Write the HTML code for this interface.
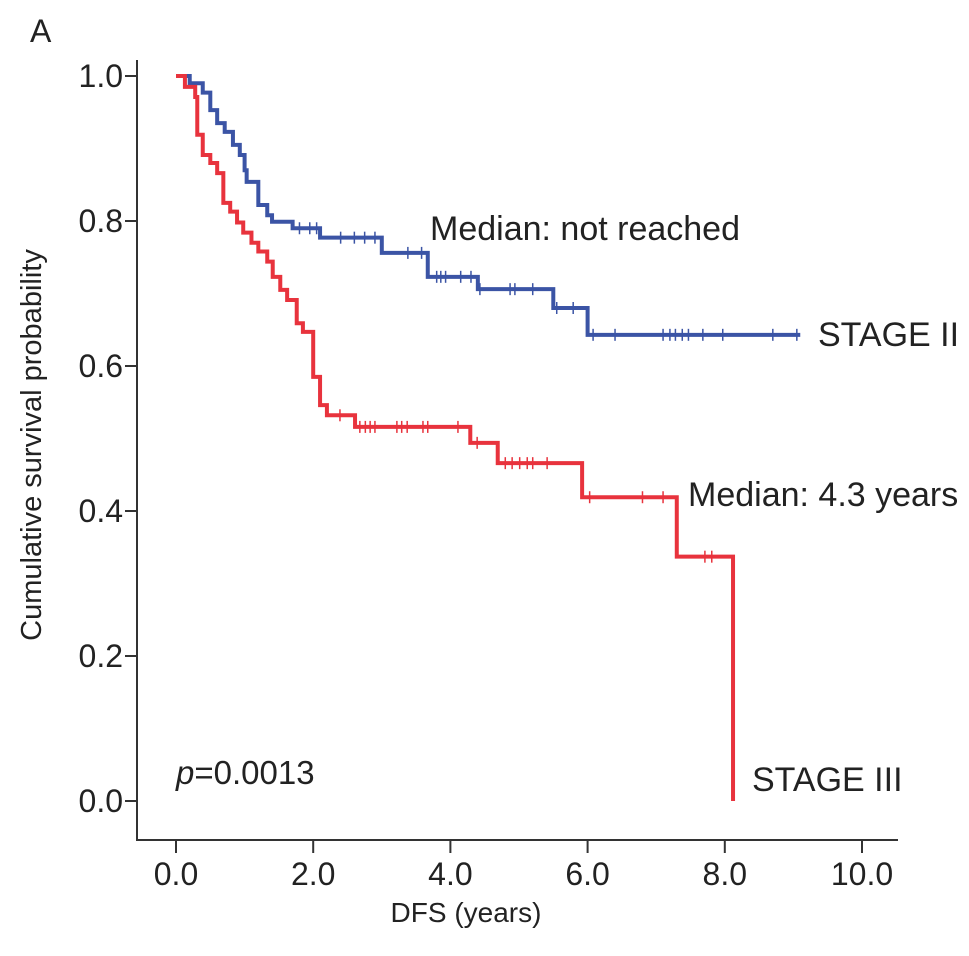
<!DOCTYPE html>
<html><head><meta charset="utf-8"><style>
body{margin:0;background:#fff}
svg text{font-family:"Liberation Sans",Arial,sans-serif;fill:#222}
</style></head><body>
<svg id="chart" width="969" height="951" xmlns="http://www.w3.org/2000/svg">
<text x="30" y="42" font-size="32">A</text>
<g id="axes"></g>
<g id="series"></g>
<text x="430" y="240" font-size="34">Median: not reached</text>
<text x="818" y="346" font-size="34">STAGE II</text>
<text x="688" y="506" font-size="34">Median: 4.3 years</text>
<text x="752" y="791" font-size="34">STAGE III</text>
<text x="176" y="784" font-size="33"><tspan font-style="italic">p</tspan>=0.0013</text>
<text x="466" y="922" font-size="28" text-anchor="middle">DFS (years)</text>
<text transform="translate(41,445) rotate(-90)" font-size="29" text-anchor="middle">Cumulative survival probability</text>
</svg>
<script>
const xTicks=[0,2,4,6,8,10];
const xTickLabels=["0.0","2.0","4.0","6.0","8.0","10.0"];
const yTicks=[0,0.2,0.4,0.6,0.8,1.0];
const yTickLabels=["0.0","0.2","0.4","0.6","0.8","1.0"];
const stage2Times=[0,0.2,0.39,0.5,0.6,0.71,0.83,0.93,1.0,1.03,1.2,1.33,1.4,1.7,2.1,3.0,3.67,4.4,5.5,6.0,9.1];
const stage2Surv=[1.0,0.99,0.977,0.953,0.935,0.923,0.905,0.891,0.87,0.854,0.822,0.808,0.799,0.79,0.777,0.756,0.723,0.706,0.68,0.643,0.643];
const stage2Censor=[1.8,1.95,2.05,2.4,2.6,2.75,2.9,3.38,3.58,3.8,3.86,3.93,4.15,4.3,4.43,4.87,4.94,5.2,5.55,5.79,6.08,6.4,7.1,7.2,7.28,7.38,7.47,7.68,7.97,8.7,9.05];
const stage3Times=[0,0.13,0.28,0.31,0.39,0.5,0.6,0.69,0.79,0.89,0.98,1.1,1.2,1.33,1.41,1.52,1.62,1.76,1.85,2.0,2.1,2.2,2.61,4.29,4.69,5.92,7.3,8.12];
const stage3Surv=[1.0,0.985,0.971,0.919,0.891,0.88,0.866,0.825,0.813,0.798,0.784,0.77,0.758,0.744,0.723,0.705,0.691,0.659,0.647,0.585,0.546,0.532,0.516,0.494,0.466,0.419,0.337,0.0];
const stage3Censor=[2.39,2.68,2.76,2.83,2.9,3.22,3.29,3.37,3.6,3.67,4.11,4.39,4.8,4.9,5.01,5.12,5.2,5.41,6.03,6.8,7.1,7.71,7.81];
const NS="http://www.w3.org/2000/svg";
const X=v=>176+v*68.6, Y=v=>801-v*725;
function mk(tag,attrs,parent){const e=document.createElementNS(NS,tag);for(const k in attrs)e.setAttribute(k,attrs[k]);parent.appendChild(e);return e;}
const axes=document.getElementById('axes'), series=document.getElementById('series');
let a=mk('line',{x1:137,y1:60,x2:137,y2:841,stroke:'#333','stroke-width':2},axes);


a=mk('line',{x1:136,y1:840,x2:898,y2:840,stroke:'#333','stroke-width':2},axes);


xTicks.forEach((t,i)=>{
 const l=mk('line',{x1:X(t),y1:840,x2:X(t),y2:853,stroke:'#333','stroke-width':2},axes);
 
 
 const tx=mk('text',{x:X(t),y:885,'font-size':32,'text-anchor':'middle'},axes);tx.textContent=xTickLabels[i];
 
 
});
yTicks.forEach((t,i)=>{
 const l=mk('line',{x1:125,y1:Y(t),x2:137,y2:Y(t),stroke:'#333','stroke-width':2},axes);
 
 
 const tx=mk('text',{x:123,y:Y(t)+11,'font-size':32,'text-anchor':'end'},axes);tx.textContent=yTickLabels[i];
 
 
});
function stepPath(times,surv){
 let d=`M${X(times[0])},${Y(surv[0])}`;
 for(let i=1;i<times.length;i++){d+=`H${X(times[i])}V${Y(surv[i])}`;}
 return d;}
function survAt(times,surv,t){let v=surv[0];for(let i=0;i<times.length;i++){if(times[i]<=t)v=surv[i];}return v;}
function draw(times,surv,censor,color,name){
 const p=mk('path',{d:stepPath(times,surv),fill:'none',stroke:color,'stroke-width':4},series);
 
 
 censor.forEach(t=>{
  const v=survAt(times,surv,t);
  const c=mk('line',{x1:X(t),y1:Y(v)-6,x2:X(t),y2:Y(v)+6,stroke:color,'stroke-width':1.5},series);
  
  
 });}
draw(stage2Times,stage2Surv,stage2Censor,'#3b54a5','stage2');
draw(stage3Times,stage3Surv,stage3Censor,'#e8333d','stage3');
</script>
</body></html>
